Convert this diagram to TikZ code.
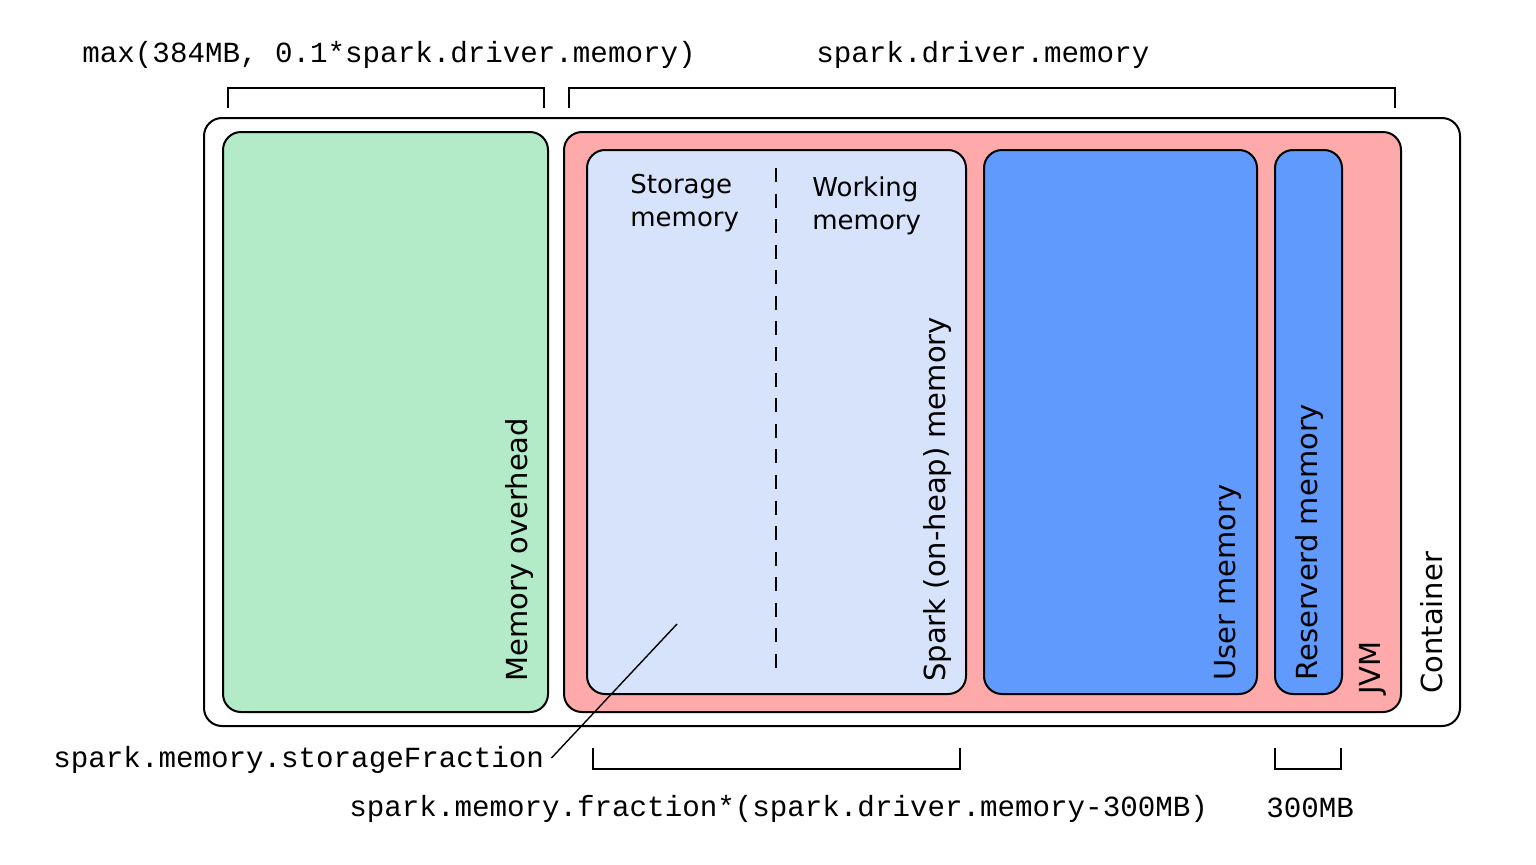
\documentclass[tikz,border=0pt]{standalone}
\usepackage{fontspec}
\setmainfont{DejaVu Sans}
\newfontfamily\monofont{Liberation Mono}
\definecolor{ovgreen}{HTML}{B3EAC8}
\definecolor{jvmpink}{HTML}{FFAAAA}
\definecolor{sparkblue}{HTML}{D7E3FA}
\definecolor{userblue}{HTML}{5F9AFC}
\tikzset{
  memblock/.style={draw=black, line width=1pt, rounded corners=9pt, inner sep=0pt},
  monolabel/.style={font=\monofont\fontsize{14.6pt}{17pt}\selectfont, inner sep=0pt},
  sidelabel/.style={font=\fontsize{14.5pt}{17pt}\selectfont, inner sep=0pt, rotate=90, anchor=base west},
  toplabel/.style={font=\fontsize{13pt}{16.5pt}\selectfont, inner sep=0pt, align=left, anchor=north west},
  bracket/.style={draw=black, line width=0.8pt},
}
\begin{document}
\begin{tikzpicture}[x=0.5pt,y=-0.5pt]
\useasboundingbox (0,0) rectangle (1536,864);
% container
\node[memblock, fill=white, minimum width=628pt, minimum height=304pt] (container) at (832,422) {};
% memory overhead
\node[memblock, fill=ovgreen, minimum width=162.5pt, minimum height=290pt] (overhead) at (385.5,422) {};
% jvm
\node[memblock, fill=jvmpink, minimum width=418.5pt, minimum height=290pt] (jvm) at (982.5,422) {};
% spark memory
\node[memblock, fill=sparkblue, minimum width=189.5pt, minimum height=272pt] (spark) at (776.5,422) {};
% user memory
\node[memblock, fill=userblue, minimum width=136.5pt, minimum height=272pt] (user) at (1120.5,422) {};
% reserved memory
\node[memblock, fill=userblue, minimum width=33.5pt, minimum height=272pt] (reserved) at (1308.5,422) {};

% dashed divider
\coordinate (dtop) at (776,168);
\coordinate (dbot) at (776,668);
\draw[line width=1pt, dash pattern=on 7pt off 5.79pt] (dtop) -- (dbot);

% inner labels
\node[toplabel] (storage) at (630,174) {Storage\\memory};
\node[toplabel] (working) at (812,176) {Working\\memory};

% rotated labels
\node[sidelabel] (lov) at (527,682) {Memory overhead};
\node[sidelabel] (lspark) at (945,682) {Spark (on-heap) memory};
\node[sidelabel] (luser) at (1235,681) {User memory};
\node[sidelabel] (lres) at (1317,681) {Reserverd memory};
\node[sidelabel] (ljvm) at (1380,695) {JVM};
\node[sidelabel] (lcont) at (1442,694) {Container};

% top labels and brackets
\node[monolabel, anchor=base west] (maxlbl) at (82,62) {max(384MB, 0.1*spark.driver.memory)};
\node[monolabel, anchor=base west] (drvlbl) at (816,62) {spark.driver.memory};
\draw[bracket] (228,108) -- (228,88) -- (544,88) -- (544,108);
\draw[bracket] (569,108) -- (569,88) -- (1395,88) -- (1395,108);

% bottom labels and brackets
\node[monolabel, anchor=base west] (sflbl) at (53,767) {spark.memory.storageFraction};
\node[monolabel, anchor=base west] (fraclbl) at (349,816) {spark.memory.fraction*(spark.driver.memory-300MB)};
\node[monolabel, anchor=base west] (mblbl) at (1266,817) {300MB};
\draw[bracket] (593,748) -- (593,769) -- (960,769) -- (960,748);
\draw[bracket] (1275,748) -- (1275,769) -- (1341,769) -- (1341,748);

% leader line
\coordinate (leadend) at (677,624);
\draw[line width=0.7pt] ([xshift=3.5pt,yshift=4.5pt]sflbl.base east) -- (leadend);
\end{tikzpicture}
\end{document}
